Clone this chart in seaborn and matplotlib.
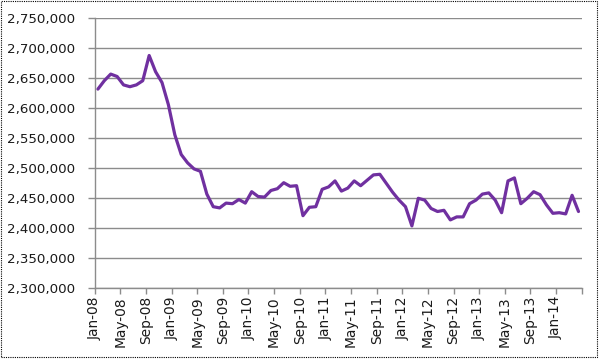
import matplotlib
matplotlib.use("Agg")
import matplotlib.pyplot as plt
import seaborn as sns
import pandas as pd
from matplotlib.patches import Rectangle

# Monthly categories Jan-08 .. Apr-14
month_names = ["Jan", "Feb", "Mar", "Apr", "May", "Jun",
               "Jul", "Aug", "Sep", "Oct", "Nov", "Dec"]
years = ["08", "09", "10", "11", "12", "13", "14"]
months = [f"{m}-{y}" for y in years for m in month_names][:76]

values = [
    2631000, 2645000, 2656000, 2652000, 2638000, 2635000, 2638000, 2645000,
    2687000, 2660000, 2642000, 2605000, 2555000, 2522000, 2508000, 2498000,
    2494000, 2456000, 2435000, 2433000, 2441000, 2440000, 2447000, 2441000,
    2460000, 2452000, 2451000, 2462000, 2465000, 2475000, 2469000, 2470000,
    2420000, 2434000, 2435000, 2464000, 2468000, 2478000, 2461000, 2466000,
    2478000, 2470000, 2479000, 2488000, 2489000, 2474000, 2459000, 2446000,
    2435000, 2403000, 2449000, 2446000, 2432000, 2427000, 2429000, 2413000,
    2418000, 2418000, 2440000, 2446000, 2456000, 2458000, 2446000, 2425000,
    2478000, 2483000, 2440000, 2449000, 2460000, 2455000, 2438000, 2424000,
    2425000, 2423000, 2454000, 2427000,
]

y_ticks = [2300000, 2350000, 2400000, 2450000, 2500000, 2550000,
           2600000, 2650000, 2700000, 2750000]

df = pd.DataFrame({"month": months, "value": values})
df["pos"] = range(len(df))

sns.set_style("white")
plt.rcParams["font.family"] = ["DejaVu Sans"]

fig = plt.figure(figsize=(6.01, 3.61), dpi=100)
ax = fig.add_axes([94.7 / 601, 1 - 287.7 / 361, (581.7 - 94.7) / 601, (287.7 - 17.7) / 361])

sns.lineplot(data=df, x="pos", y="value", ax=ax, color="#7030A0", linewidth=2.3)

ax.set_xlim(-0.5, len(df) - 0.5)
ax.set_ylim(y_ticks[0], y_ticks[-1])
ax.set_yticks(y_ticks)
ax.set_yticklabels([f"{v:,}" for v in y_ticks], fontsize=9.6, color="#1a1a1a")

xt = [i - 0.5 for i in range(0, len(df) + 1, 4)]
ax.set_xticks(xt)
xl = [months[i] if i < len(months) else "" for i in range(0, len(df) + 1, 4)]
ax.set_xticklabels(xl, rotation=90, fontsize=9.9, color="#1a1a1a")

ax.set_xlabel("")
ax.set_ylabel("")
ax.grid(axis="y", color="#8c8c8c", linewidth=1.0)
ax.grid(axis="x", visible=False)
ax.set_axisbelow(True)
for s in ["top", "right"]:
    ax.spines[s].set_visible(False)
for s in ["left", "bottom"]:
    ax.spines[s].set_color("#8c8c8c")
    ax.spines[s].set_linewidth(1.0)
ax.tick_params(axis="y", which="major", length=5, width=1, color="#8c8c8c", pad=9, left=True)
ax.tick_params(axis="x", which="major", length=4, width=1, color="#8c8c8c", pad=2, bottom=True)

fig.patches.append(Rectangle((0.002, 0.010), 0.991, 0.987, transform=fig.transFigure,
                             fill=False, linestyle=(0, (1, 1)), linewidth=0.8, edgecolor="black"))

fig.savefig("out.png", dpi=100)
